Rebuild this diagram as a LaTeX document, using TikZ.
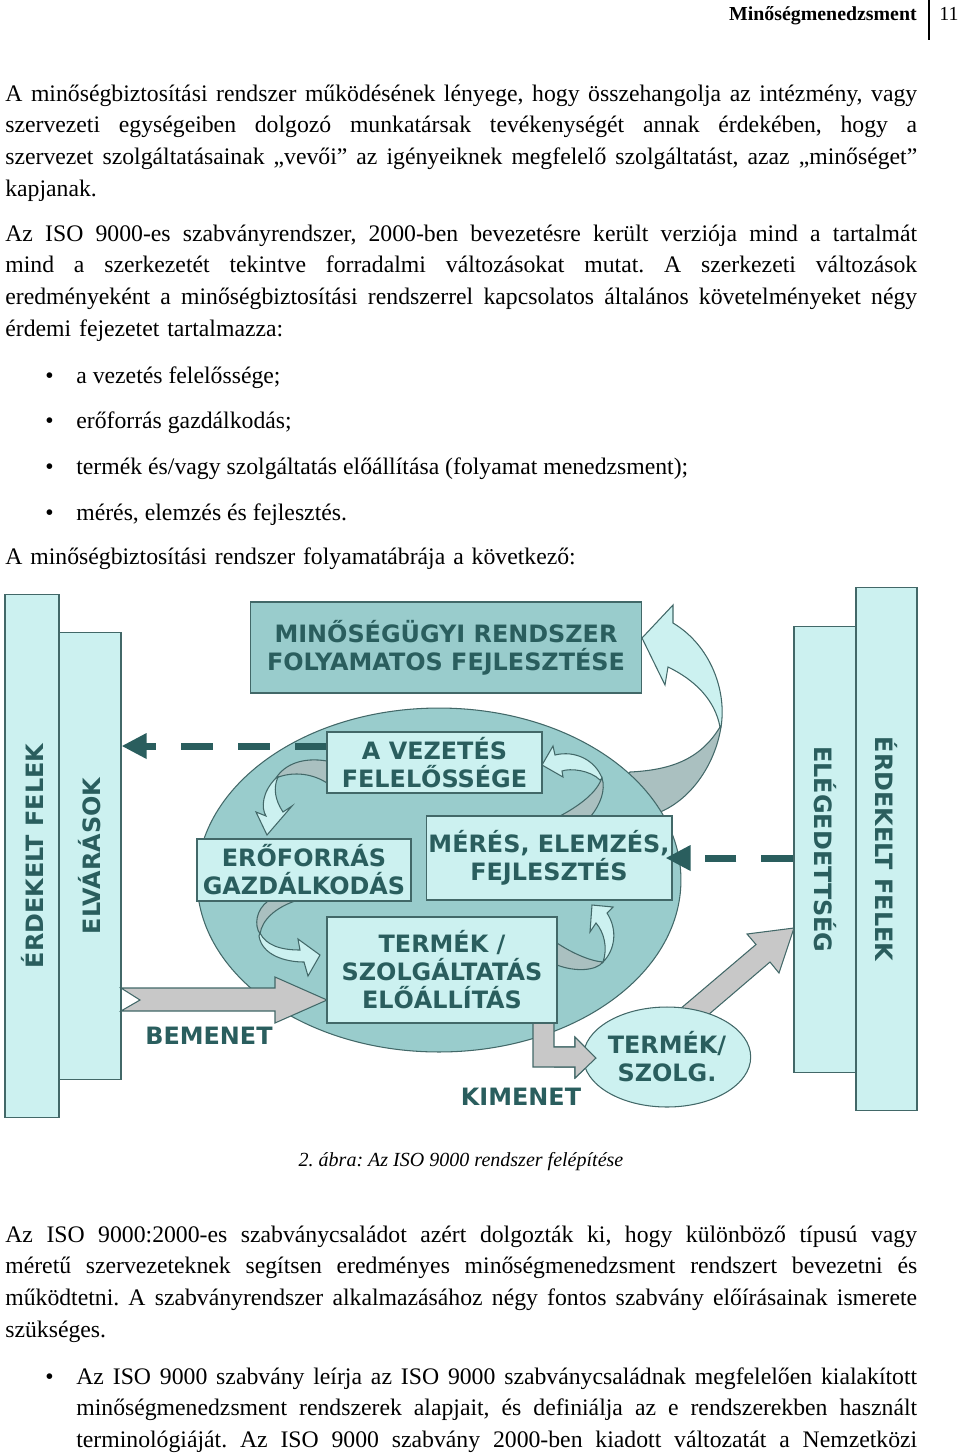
\documentclass[tikz,border=0pt]{standalone}
\usepackage{fontspec}
\setmainfont{Liberation Serif}
\newfontfamily\abrafont{DejaVu Sans}
\usetikzlibrary{arrows.meta,shapes.geometric}

\definecolor{sotet}{RGB}{42,94,94}
\definecolor{kozep}{RGB}{153,204,204}
\definecolor{vilagos}{RGB}{204,241,240}
\definecolor{keret}{RGB}{66,104,104}
\definecolor{szalag}{RGB}{170,192,192}
\definecolor{szurke}{RGB}{200,200,200}

% sorkizart sor
\newcommand{\sor}[2][18.24cm]{\hbox to #1{\spaceskip=0pt\xspaceskip=0pt #2}\par}
\frenchspacing

\tikzset{
  szoveg/.style={anchor=base west, inner sep=0pt, text width=18.24cm, align=left,
    font=\fontsize{13.5}{18.14}\selectfont},
  felirat/.style={font=\abrafont\bfseries\fontsize{13.6}{15.9}\selectfont, text=sotet,
    align=center, inner sep=0pt},
  doboz/.style={felirat, draw=keret, fill=vilagos, line width=0.6pt},
  szalagelo/.style={fill=vilagos, draw=keret, line width=0.6pt},
  szalaghat/.style={fill=szalag, draw=keret, line width=0.6pt},
  tomb/.style={fill=szurke, draw=keret, line width=0.6pt},
  szaggatott/.style={draw=sotet, line width=0.14cm, dash pattern=on 0.64cm off 0.5cm,
    -{Triangle[length=0.5cm, width=0.48cm]}}
}

\begin{document}
\begin{tikzpicture}[x=0.02cm, y=-0.02cm]
\useasboundingbox (0,0) rectangle (960,1455);

% fejlec
\node[anchor=base east, inner sep=0pt, font=\fontsize{11.3}{13}\selectfont\bfseries] (fej) at (917,20) {Minőségmenedzsment};
\node[anchor=base west, inner sep=0pt, font=\fontsize{11.3}{13}\selectfont] (oldal) at (939,20) {11};
\draw[line width=0.7pt] (929,0) -- (929,40);

% bekezdesek
\node[szoveg] (bek1) at (5,101) {\sor{A minőségbiztosítási rendszer működésének lényege, hogy összehangolja az intézmény, vagy}\sor{szervezeti egységeiben dolgozó munkatársak tevékenységét annak érdekében, hogy a}\sor{szervezet szolgáltatásainak „vevői” az igényeiknek megfelelő szolgáltatást, azaz „minőséget”}kapjanak.};
\node[szoveg] (bek2) at (5,241) {\sor{Az ISO 9000-es szabványrendszer, 2000-ben bevezetésre került verziója mind a tartalmát}\sor{mind a szerkezetét tekintve forradalmi változásokat mutat. A szerkezeti változások}\sor{eredményeként a minőségbiztosítási rendszerrel kapcsolatos általános követelményeket négy}érdemi fejezetet tartalmazza:};

% felsorolas
\foreach \t [count=\i] in {{a vezetés felelőssége;}, {erőforrás gazdálkodás;},
    {termék és/vagy szolgáltatás előállítása (folyamat menedzsment);}, {mérés, elemzés és fejlesztés.}} {
  \node[szoveg, text width=] (pont\i) at (45,{383+45.7*(\i-1)}) {\textbullet};
  \node[szoveg, text width=] (tetel\i) at (76,{383+45.7*(\i-1)}) {\t};
}
\node[szoveg] (bev) at (5,564) {A minőségbiztosítási rendszer folyamatábrája a következő:};

% oldalso oszlopok
\node[doboz, rotate=90, minimum width=10.48cm, minimum height=1.08cm] (erdbal) at (32,856) {ÉRDEKELT FELEK};
\node[doboz, rotate=90, minimum width=8.96cm, minimum height=1.24cm] (elv) at (90,856) {ELVÁRÁSOK};
\node[doboz, rotate=-90, minimum width=8.94cm, minimum height=1.24cm] (eleg) at (825,849.5) {ELÉGEDETTSÉG};
\node[doboz, rotate=-90, minimum width=10.48cm, minimum height=1.22cm] (erdjobb) at (886.5,849) {ÉRDEKELT FELEK};

% felso doboz
\node[doboz, fill=kozep, minimum width=7.84cm, minimum height=1.82cm] (fejl) at (446,647.5) {MINŐSÉGÜGYI RENDSZER\\FOLYAMATOS FEJLESZTÉSE};

% nagy visszacsatolo nyil
\draw[szalaghat] (721,727) .. controls (715,765) and (690,802) .. (655,814) -- (615,790) -- (630,772) .. controls (670,770) and (700,760) .. (720,727) -- cycle;
\draw[szalagelo] (721,727) .. controls (727,690) and (710,645) .. (673,623) -- (673,605) -- (642,638) -- (665,685) -- (668,667) .. controls (695,680) and (715,700) .. (720,727) -- cycle;

% kimenet a termektol az elegedettsegig
\draw[tomb] (673,1015) -- (756,944.5) -- (747,934) -- (794,928) -- (779,973) -- (770,962) -- (687,1033) -- cycle;

% folyamat ellipszis
\node[ellipse, draw=keret, fill=kozep, line width=0.6pt, minimum width=9.68cm, minimum height=6.88cm] (kor) at (439,880) {};

% bemenet nyil
\draw[tomb] (121,988) -- (275,988) -- (275,977) -- (327,1000) -- (275,1023) -- (275,1011) -- (121,1011) -- (140,1000) -- cycle;

% belso korforgas
\draw[szalaghat] (327,761) .. controls (303,757) and (285,764) .. (276,778) .. controls (290,772) and (310,772) .. (327,783) -- cycle;
\draw[szalagelo] (276,778) .. controls (262,792) and (261,808) .. (266,816) -- (256,812) -- (267,835) -- (292,806) -- (283,812) .. controls (275,800) and (273,788) .. (278,777) -- cycle;
\draw[szalaghat] (602,778) .. controls (606,790) and (600,805) .. (591,816) -- (560,816) .. controls (575,808) and (595,795) .. (601,780) -- cycle;
\draw[szalagelo] (602,778) .. controls (595,760) and (575,750) .. (555,755) -- (553,746) -- (542,765) -- (563,777) -- (562,771) .. controls (570,768) and (590,770) .. (600,780) -- cycle;
\draw[szalaghat] (268,901) .. controls (256,910) and (254,925) .. (260,934) .. controls (262,920) and (275,908) .. (295,901) -- cycle;
\draw[szalagelo] (260,933) .. controls (266,945) and (280,950) .. (300,950) -- (298,939) -- (320,955) -- (308,976) -- (304,962) .. controls (285,962) and (262,955) .. (259,936) -- cycle;
\draw[szalaghat] (557,943) .. controls (572,953) and (590,961) .. (603,962) .. controls (596,971) and (575,972) .. (557,965) -- cycle;
\draw[szalagelo] (603,962) .. controls (615,950) and (618,930) .. (607,913) -- (613,907) -- (592,905) -- (590,932) -- (596,923) .. controls (604,932) and (608,948) .. (603,962) -- cycle;

% kimenet nyil
\draw[tomb] (533,1020) -- (554,1020) -- (554,1047) -- (575,1047) -- (575,1037) -- (596,1058) -- (575,1078) -- (575,1067) -- (533,1067) -- cycle;

% folyamat dobozok
\node[doboz, minimum width=4.3cm, minimum height=1.22cm] (vez) at (434.5,762.5) {A VEZETÉS\\FELELŐSSÉGE};
\node[doboz, minimum width=4.28cm, minimum height=1.24cm] (ero) at (304,870) {ERŐFORRÁS\\GAZDÁLKODÁS};
\node[doboz, minimum width=4.92cm, minimum height=1.68cm] (mer) at (549,858) {MÉRÉS, ELEMZÉS,\\FEJLESZTÉS};
\node[doboz, minimum width=4.6cm, minimum height=2.12cm] (term) at (442,970) {TERMÉK /\\SZOLGÁLTATÁS\\ELŐÁLLÍTÁS};

% termek ellipszis
\node[ellipse, doboz, minimum width=3.22cm, minimum height=2cm] (szolg) at (667,1057) {TERMÉK/\\SZOLG.};
\draw[tomb] (554,1047) -- (575,1047) -- (575,1037) -- (596,1058) -- (575,1078) -- (575,1067) -- (554,1067);

% szaggatott visszajelzesek
\draw[szaggatott] ([yshift=0.33cm]vez.west) coordinate (v1) -- (v1 -| elv.south);
\draw[szaggatott] (mer.east -| eleg.south) -- ([xshift=-0.14cm]mer.east);

% cimkek
\node[felirat] (be) at (209,1036) {BEMENET};
\node[felirat] (ki) at (521,1097) {KIMENET};

% abrafelirat
\node[anchor=base, inner sep=0pt, font=\fontsize{11.4}{13}\selectfont\itshape] (cim) at (461,1166) {2. ábra: Az ISO 9000 rendszer felépítése};

% tovabbi szoveg
\node[szoveg] (bek3) at (5,1242) {\sor{Az ISO 9000:2000-es szabványcsaládot azért dolgozták ki, hogy különböző típusú vagy}\sor{méretű szervezeteknek segítsen eredményes minőségmenedzsment rendszert bevezetni és}\sor{működtetni. A szabványrendszer alkalmazásához négy fontos szabvány előírásainak ismerete}szükséges.};
\node[szoveg, text width=] (pont5) at (45,1384) {\textbullet};
\node[szoveg, text width=16.82cm] (bek4) at (76,1384) {\sor[16.82cm]{Az ISO 9000 szabvány leírja az ISO 9000 szabványcsaládnak megfelelően kialakított}\sor[16.82cm]{minőségmenedzsment rendszerek alapjait, és definiálja az e rendszerekben használt}\sor[16.82cm]{terminológiáját. Az ISO 9000 szabvány 2000-ben kiadott változatát a Nemzetközi}};
\end{tikzpicture}
\end{document}
